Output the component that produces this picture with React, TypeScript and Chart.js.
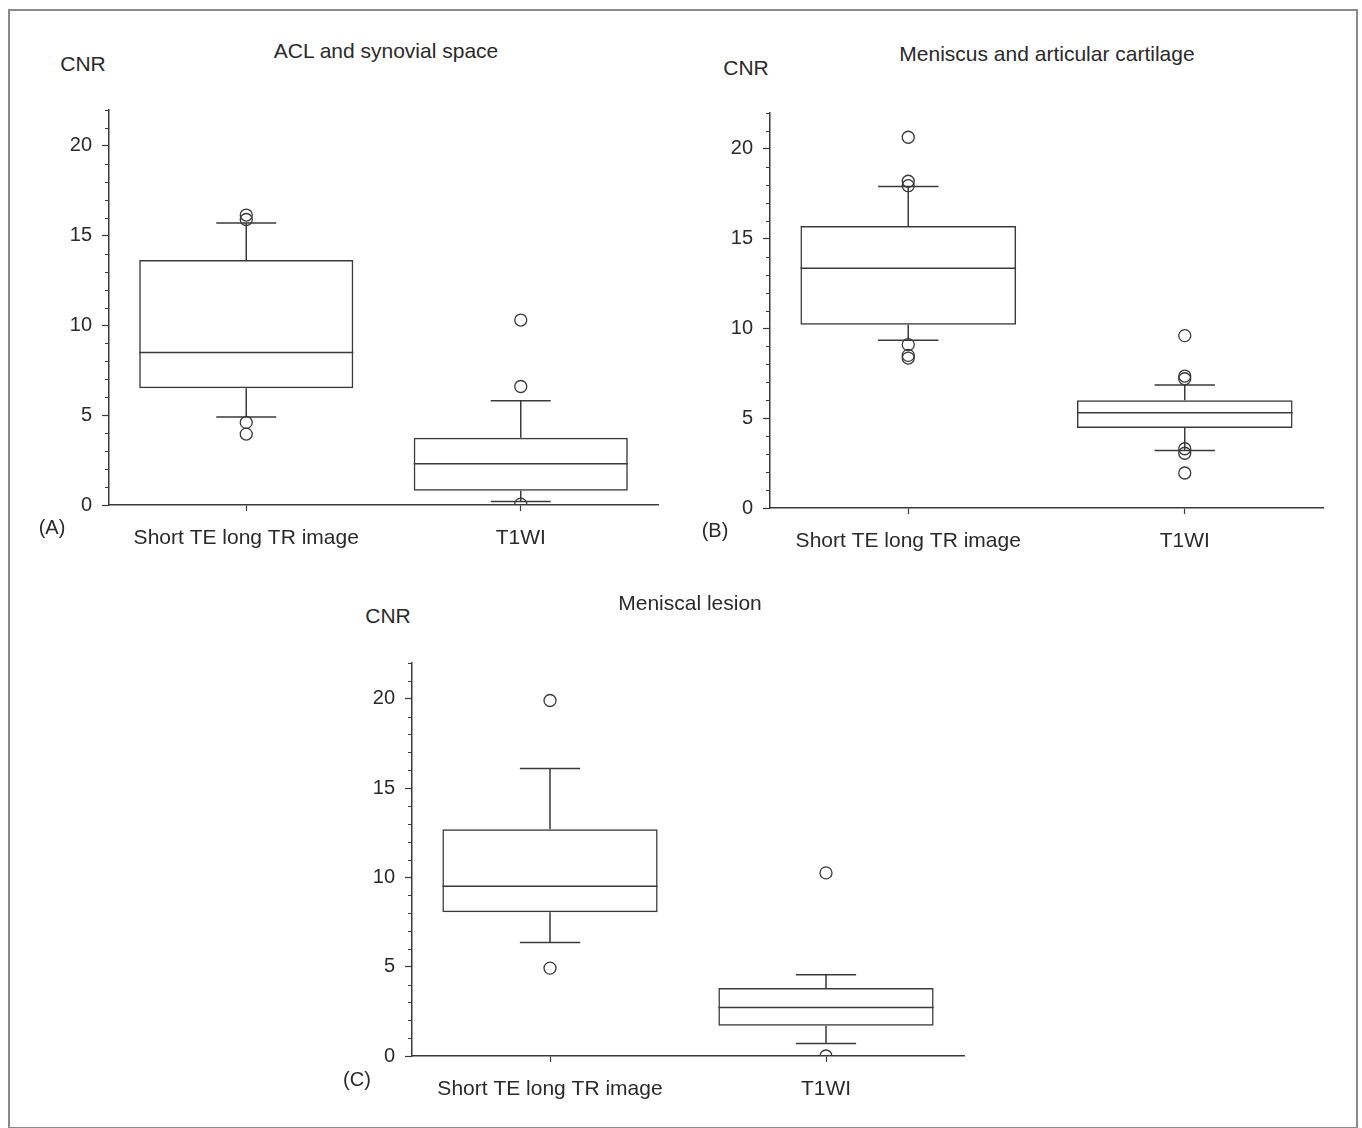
import React, { useEffect, useRef } from "react";
import { Chart, registerables } from "chart.js";

Chart.register(...registerables);

// ---------- data ----------
const categories = ["Short TE long TR image", "T1WI"];
const yMin = 0;
const yMax = 22;
const majorStep = 5;

// (A) ACL and synovial space
const aclQ1 = [6.5, 0.8];
const aclQ3 = [13.65, 3.75];
const aclMedian = [8.5, 2.3];
const aclLowWhisker = [4.9, 0.2];
const aclHighWhisker = [15.7, 5.8];
const aclOutliersShort = [16.15, 15.9, 4.6, 3.95];
const aclOutliersT1 = [10.3, 6.6, 0.05];

// (B) Meniscus and articular cartilage
const menQ1 = [10.2, 4.45];
const menQ3 = [15.7, 6.0];
const menMedian = [13.35, 5.3];
const menLowWhisker = [9.35, 3.2];
const menHighWhisker = [17.9, 6.85];
const menOutliersShort = [20.65, 18.2, 17.95, 9.1, 8.5, 8.35];
const menOutliersT1 = [9.6, 7.35, 7.2, 3.3, 3.05, 1.95];

// (C) Meniscal lesion
const lesQ1 = [8.05, 1.7];
const lesQ3 = [12.7, 3.8];
const lesMedian = [9.5, 2.72];
const lesLowWhisker = [6.35, 0.7];
const lesHighWhisker = [16.1, 4.55];
const lesOutliersShort = [19.9, 4.92];
const lesOutliersT1 = [10.25, 0.0];

// ---------- styling ----------
const LINE = "#3a3a3a";
const TEXT = "#2a2a2a";
const FONT = "'Liberation Sans', Arial, Helvetica, sans-serif";

type PanelData = {
  q1: number[];
  q3: number[];
  median: number[];
  low: number[];
  high: number[];
  outShort: number[];
  outT1: number[];
};

type Layout = {
  left: number;
  top: number;
  width: number;
  height: number;
  yWidth: number;
  xHeight: number;
  padTop: number;
  padRight: number;
};

function makeBoxPlugin(d: PanelData) {
  return {
    id: "boxWhiskers",
    beforeDatasetsDraw(chart: any) {
      const ctx = chart.ctx;
      const y = chart.scales.y;
      const meta = chart.getDatasetMeta(0);
      ctx.save();
      ctx.strokeStyle = LINE;
      ctx.lineWidth = 1.5;
      meta.data.forEach((el: any, i: number) => {
        const cx = el.x;
        const cap = el.width * 0.28;
        const yq3 = y.getPixelForValue(d.q3[i]);
        const yq1 = y.getPixelForValue(d.q1[i]);
        const yh = y.getPixelForValue(d.high[i]);
        const yl = y.getPixelForValue(d.low[i]);
        ctx.beginPath();
        ctx.moveTo(cx, yq3);
        ctx.lineTo(cx, yh);
        ctx.moveTo(cx - cap / 2, yh);
        ctx.lineTo(cx + cap / 2, yh);
        ctx.moveTo(cx, yq1);
        ctx.lineTo(cx, yl);
        ctx.moveTo(cx - cap / 2, yl);
        ctx.lineTo(cx + cap / 2, yl);
        ctx.stroke();
      });
      ctx.restore();
    },
    afterDatasetsDraw(chart: any) {
      const ctx = chart.ctx;
      const y = chart.scales.y;
      const meta = chart.getDatasetMeta(0);
      ctx.save();
      ctx.strokeStyle = LINE;
      ctx.lineWidth = 1.5;
      meta.data.forEach((el: any, i: number) => {
        const ym = y.getPixelForValue(d.median[i]);
        ctx.beginPath();
        ctx.moveTo(el.x - el.width / 2, ym);
        ctx.lineTo(el.x + el.width / 2, ym);
        ctx.stroke();
      });
      ctx.restore();
    },
    afterDraw(chart: any) {
      // minor ticks (shorter) on the y axis
      const ctx = chart.ctx;
      const y = chart.scales.y;
      const x0 = chart.chartArea.left;
      ctx.save();
      ctx.strokeStyle = LINE;
      ctx.lineWidth = 1;
      y.ticks.forEach((t: any) => {
        if (t.value % majorStep !== 0) {
          const py = Math.round(y.getPixelForValue(t.value)) + 0.5;
          ctx.beginPath();
          ctx.moveTo(x0 - 4, py);
          ctx.lineTo(x0, py);
          ctx.stroke();
        }
      });
      ctx.restore();
    },
  };
}

function buildConfig(d: PanelData, L: Layout): any {
  const outliers = [
    ...d.outShort.map((v) => ({ x: categories[0], y: v })),
    ...d.outT1.map((v) => ({ x: categories[1], y: v })),
  ];
  return {
    type: "bar",
    data: {
      labels: categories,
      datasets: [
        {
          type: "bar",
          data: categories.map((_, i) => [d.q1[i], d.q3[i]]),
          backgroundColor: "rgba(255,255,255,0)",
          borderColor: LINE,
          borderWidth: 1.5,
          borderSkipped: false,
          barPercentage: 0.78,
          categoryPercentage: 1,
          grouped: false,
          order: 2,
        },
        {
          type: "line",
          data: outliers,
          showLine: false,
          pointStyle: "circle",
          pointRadius: 6,
          pointHoverRadius: 6,
          pointBorderWidth: 1.3,
          pointBackgroundColor: "rgba(255,255,255,0)",
          pointBorderColor: LINE,
          clip: { left: 10, right: 10, top: 10, bottom: 0 },
          order: 1,
        },
      ],
    },
    options: {
      responsive: false,
      animation: false,
      events: [],
      layout: {
        padding: { top: L.padTop, right: L.padRight, left: 0, bottom: 0 },
      },
      plugins: {
        legend: { display: false },
        tooltip: { enabled: false },
        title: { display: false },
      },
      scales: {
        x: {
          type: "category",
          offset: true,
          afterFit: (s: any) => {
            s.height = L.xHeight;
          },
          grid: {
            offset: false,
            drawOnChartArea: false,
            drawTicks: true,
            tickLength: 6,
            tickColor: LINE,
            tickWidth: 1.2,
          },
          border: { display: true, color: LINE, width: 1.5 },
          ticks: {
            color: TEXT,
            font: { family: FONT, size: 21 },
            padding: 15,
            maxRotation: 0,
            autoSkip: false,
          },
        },
        y: {
          type: "linear",
          min: yMin,
          max: yMax,
          afterFit: (s: any) => {
            s.width = L.yWidth;
          },
          grid: {
            drawOnChartArea: false,
            drawTicks: true,
            tickLength: 7,
            tickColor: (c: any) =>
              c.tick && c.tick.value % majorStep === 0 ? LINE : "rgba(0,0,0,0)",
            tickWidth: 1.2,
          },
          border: { display: true, color: LINE, width: 1.5 },
          ticks: {
            stepSize: 1,
            autoSkip: false,
            color: TEXT,
            font: { family: FONT, size: 20 },
            padding: 10,
            callback: (v: any) => (Number(v) % majorStep === 0 ? String(v) : ""),
          },
        },
      },
    },
    plugins: [makeBoxPlugin(d)],
  };
}

function Panel({ d, L }: { d: PanelData; L: Layout }) {
  const ref = useRef<HTMLCanvasElement | null>(null);
  useEffect(() => {
    if (!ref.current) return;
    const chart = new Chart(ref.current, buildConfig(d, L));
    return () => chart.destroy();
  }, []);
  return (
    <canvas
      ref={ref}
      width={L.width}
      height={L.height}
      style={{
        position: "absolute",
        left: L.left,
        top: L.top,
        width: L.width,
        height: L.height,
      }}
    />
  );
}

function Label({
  text,
  x,
  y,
  size = 21,
}: {
  text: string;
  x: number;
  y: number;
  size?: number;
}) {
  return (
    <div
      style={{
        position: "absolute",
        left: x,
        top: y,
        transform: "translate(-50%, -50%)",
        whiteSpace: "nowrap",
        fontFamily: FONT,
        fontSize: size,
        lineHeight: 1,
        color: TEXT,
      }}
    >
      {text}
    </div>
  );
}

const panelA: PanelData = {
  q1: aclQ1,
  q3: aclQ3,
  median: aclMedian,
  low: aclLowWhisker,
  high: aclHighWhisker,
  outShort: aclOutliersShort,
  outT1: aclOutliersT1,
};
const panelB: PanelData = {
  q1: menQ1,
  q3: menQ3,
  median: menMedian,
  low: menLowWhisker,
  high: menHighWhisker,
  outShort: menOutliersShort,
  outT1: menOutliersT1,
};
const panelC: PanelData = {
  q1: lesQ1,
  q3: lesQ3,
  median: lesMedian,
  low: lesLowWhisker,
  high: lesHighWhisker,
  outShort: lesOutliersShort,
  outT1: lesOutliersT1,
};

const layoutA: Layout = { left: 20, top: 88, width: 670, height: 472, yWidth: 89, xHeight: 55, padTop: 0, padRight: 32 };
const layoutB: Layout = { left: 690, top: 91, width: 660, height: 469, yWidth: 80, xHeight: 52, padTop: 0, padRight: 27 };
const layoutC: Layout = { left: 330, top: 641, width: 660, height: 479, yWidth: 82, xHeight: 64, padTop: 0, padRight: 26 };

export default function App() {
  return (
    <div
      style={{
        position: "absolute",
        left: 0,
        top: 0,
        width: 1362,
        height: 1128,
        background: "#ffffff",
        overflow: "hidden",
      }}
    >
      <div
        style={{
          position: "absolute",
          left: 8,
          top: 9,
          width: 1346,
          height: 1116,
          border: "2px solid #8a8a8a",
        }}
      />
      <Panel d={panelA} L={layoutA} />
      <Panel d={panelB} L={layoutB} />
      <Panel d={panelC} L={layoutC} />

      <Label text="CNR" x={83} y={63} />
      <Label text="ACL and synovial space" x={386} y={50} />
      <Label text="(A)" x={52} y={527} size={20} />

      <Label text="CNR" x={746} y={67} />
      <Label text="Meniscus and articular cartilage" x={1047} y={53} />
      <Label text="(B)" x={715} y={530} size={20} />

      <Label text="CNR" x={388} y={615} />
      <Label text="Meniscal lesion" x={690} y={602} />
      <Label text="(C)" x={357} y={1079} size={20} />
    </div>
  );
}
